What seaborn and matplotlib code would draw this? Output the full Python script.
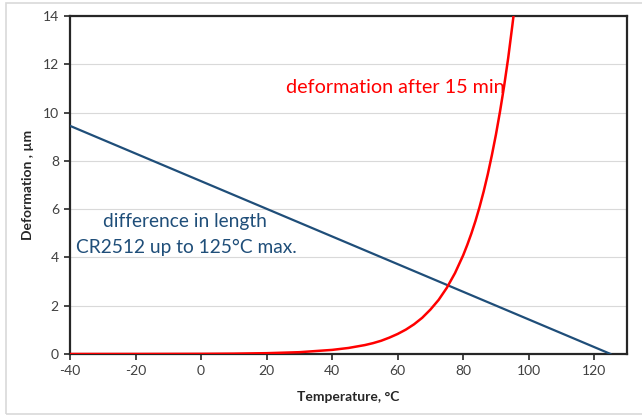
import matplotlib
matplotlib.use("Agg")
import matplotlib.pyplot as plt
import seaborn as sns
import pandas as pd
from matplotlib.patches import Rectangle

# Creep deformation of the solder joint after 15 min (µm)
creep_temp = [-40, -20, 0, 10, 20, 30, 40, 45, 50, 52.5, 55, 57.5, 60, 62.5,
              65, 67.5, 70, 72.5, 75, 77.5, 80, 81.25, 82.5, 83.75, 85,
              86.25, 87.5, 88.75, 90, 91.25, 92.5, 93.75, 95, 96.25]
creep_um = [0.0003, 0.0014, 0.0068, 0.015, 0.034, 0.075, 0.17, 0.25, 0.37,
            0.45, 0.55, 0.68, 0.83, 1.01, 1.23, 1.50, 1.84, 2.24, 2.74, 3.35,
            4.09, 4.52, 4.99, 5.51, 6.09, 6.73, 7.44, 8.23, 9.09, 10.05,
            11.1, 12.27, 13.6, 14.99]

# Thermal length difference of CR2512, zero at the 125 °C maximum
diff_temp = [-40, 125]
diff_um = [9.45, 0.0]

x_ticks = [-40, -20, 0, 20, 40, 60, 80, 100, 120]
y_ticks = [0, 2, 4, 6, 8, 10, 12, 14]

sns.set_theme(style="white")
plt.rcParams["font.family"] = ["Lato", "DejaVu Sans"]

fig = plt.figure(figsize=(6.42, 4.17), dpi=100)
ax = fig.add_axes([70 / 642, 1 - 354 / 417, 557 / 642, 338 / 417])

creep = pd.DataFrame({"T": creep_temp, "d": creep_um})
diff = pd.DataFrame({"T": diff_temp, "d": diff_um})

sns.lineplot(data=diff, x="T", y="d", ax=ax, color="#1f4e79", lw=1.6, zorder=3)
sns.lineplot(data=creep, x="T", y="d", ax=ax, color="#ff0000", lw=1.8, zorder=4)

ax.set_xlim(-40, 130)
ax.set_ylim(0, 14)
ax.set_xticks(x_ticks)
ax.set_yticks(y_ticks)
ax.set_xticklabels([str(v) for v in x_ticks])
ax.set_yticklabels([str(v) for v in y_ticks])

ax.grid(axis="y", color="#d9d9d9", lw=0.8)
ax.grid(axis="x", visible=False)
ax.set_axisbelow(True)

for s in ax.spines.values():
    s.set_visible(True)
    s.set_color("#262626")
    s.set_linewidth(1.6)

ax.tick_params(axis="both", which="major", direction="out", length=4,
               width=1.2, color="#262626", labelsize=10, labelcolor="#404040",
               bottom=True, left=True, pad=4)

ax.set_xlabel("Temperature, °C", fontsize=10, fontweight="bold",
              color="#262626", labelpad=10)
ax.set_ylabel("Deformation , µm", fontsize=10, fontweight="bold",
              color="#262626", labelpad=6)

ax.text(92.6, 11.05, "deformation after 15 min", color="#ff0000",
        fontsize=14.2, ha="right", va="center")
ax.text(-5.0, 5.47, "difference in length", color="#1f4e79",
        fontsize=13.8, ha="center", va="center")
ax.text(-4.4, 4.43, "CR2512 up to 125°C max.", color="#1f4e79",
        fontsize=13.8, ha="center", va="center")

# light frame around the whole chart area
fig.patches.append(Rectangle((6 / 642, 3 / 417), 1.2, 411 / 417,
                             transform=fig.transFigure, fill=False,
                             edgecolor="#d9d9d9", lw=1.2, zorder=0))

fig.savefig("out.png", dpi=100)
